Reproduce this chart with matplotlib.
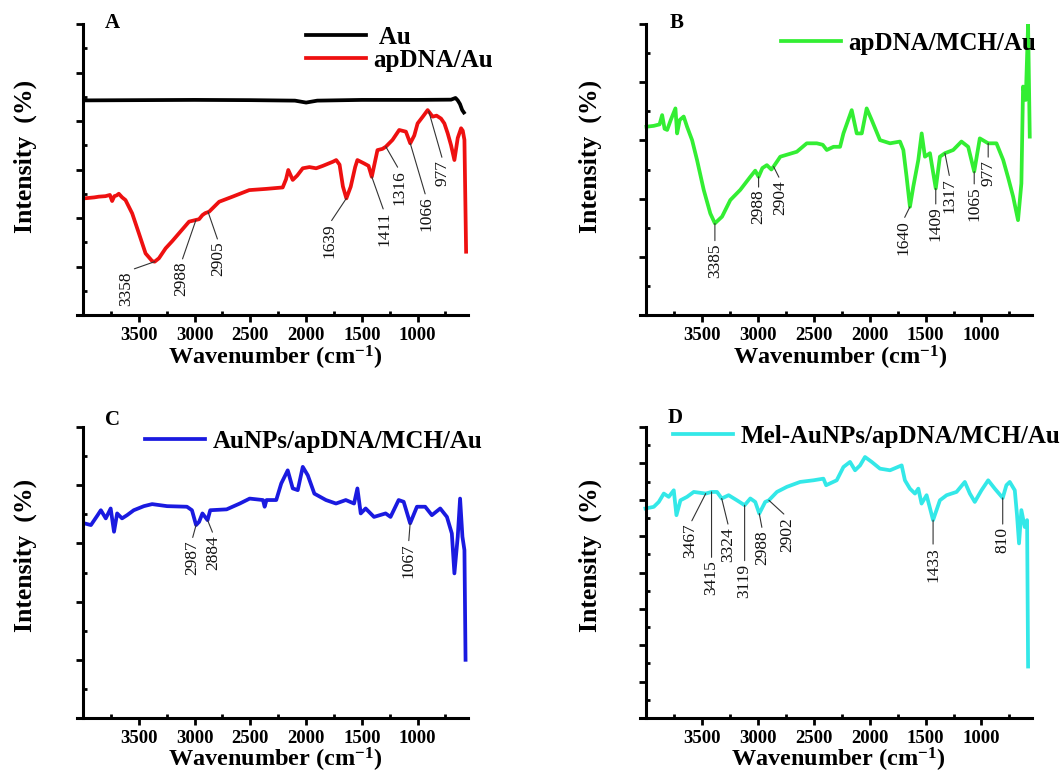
import matplotlib
matplotlib.use("Agg")
import matplotlib.pyplot as plt

plt.rcParams['font.family'] = ['Liberation Serif', 'DejaVu Serif']
plt.rcParams['mathtext.fontset'] = 'custom'
plt.rcParams['mathtext.rm'] = 'Liberation Serif:bold'
plt.rcParams['mathtext.bf'] = 'Liberation Serif:bold'
plt.rcParams['mathtext.it'] = 'Liberation Serif:bold'

# ---------------- data (wavenumber cm-1, arbitrary intensity units) -------------
au_x = [3990, 3500, 3000, 2500, 2100, 2000, 1900, 1500, 1000, 700, 660, 640, 620, 600, 585]
au_y = [8.85, 8.86, 8.87, 8.86, 8.84, 8.76, 8.84, 8.87, 8.87, 8.88, 8.95, 8.85, 8.7, 8.45, 8.35]

apdna_x = [3990, 3900, 3859, 3800, 3760, 3740, 3720, 3700, 3680, 3650, 3620, 3560, 3500, 3440,
           3380, 3358, 3320, 3260, 3200, 3140, 3050, 2988, 2960, 2930, 2905, 2870, 2780, 2660,
           2510, 2360, 2210, 2180, 2160, 2120, 2080, 2030, 1970, 1910, 1850, 1760, 1730, 1700,
           1670, 1639, 1600, 1560, 1540, 1480, 1440, 1411, 1360, 1316, 1285, 1225, 1165, 1105,
           1066, 1030, 1000, 950, 910, 865, 830, 790, 760, 730, 700, 670, 640, 610, 595, 580, 565]
apdna_y = [4.81, 4.85, 4.88, 4.9, 4.95, 4.7, 4.9, 4.93, 5.0, 4.85, 4.74, 4.19, 3.37, 2.54,
           2.22, 2.2, 2.34, 2.75, 3.05, 3.37, 3.85, 3.92, 3.95, 4.12, 4.2, 4.26, 4.67, 4.88,
           5.15, 5.2, 5.26, 5.6, 5.98, 5.57, 5.75, 6.05, 6.1, 6.05, 6.15, 6.32, 6.39, 6.2,
           5.3, 4.81, 5.29, 6.1, 6.39, 6.25, 6.15, 5.7, 6.8, 6.85, 6.94, 7.22, 7.63, 7.56,
           7.08, 7.4, 7.9, 8.2, 8.45, 8.18, 8.22, 8.1, 7.9, 7.49, 7.0, 6.39, 7.3, 7.7, 7.6, 7.22, 2.61]

mch_x = [3997, 3932, 3880, 3857, 3835, 3812, 3780, 3738, 3723, 3700, 3664, 3634, 3589, 3545,
         3485, 3426, 3385, 3321, 3247, 3158, 3068, 3024, 2994, 2960, 2920, 2880, 2860, 2800,
         2652, 2563, 2473, 2420, 2384, 2324, 2265, 2235, 2161, 2116, 2071, 2027, 1982, 1908,
         1818, 1729, 1699, 1670, 1640, 1610, 1565, 1535, 1506, 1461, 1409, 1372, 1327, 1253,
         1179, 1119, 1065, 1015, 940, 866, 806, 760, 717, 673, 643, 628, 604, 583, 568]
mch_y = [6.47, 6.5, 6.55, 6.87, 6.4, 6.36, 6.7, 7.1, 6.24, 6.7, 6.82, 6.47, 6.01, 5.33,
         4.3, 3.49, 3.15, 3.38, 3.95, 4.3, 4.75, 4.96, 4.75, 5.05, 5.15, 5.0, 5.1, 5.44,
         5.61, 5.9, 5.9, 5.85, 5.67, 5.78, 5.78, 6.24, 7.04, 6.24, 6.24, 7.1, 6.7, 6.01,
         5.9, 5.96, 5.67, 4.75, 3.72, 4.41, 5.33, 6.24, 5.44, 5.56, 4.35, 5.44, 5.56, 5.67,
         5.96, 5.78, 4.93, 6.07, 5.9, 5.9, 5.33, 4.7, 4.07, 3.26, 4.52, 7.85, 7.39, 10.0, 6.13]

aunp_x = [3990, 3930, 3870, 3841, 3797, 3753, 3723, 3695, 3651, 3606, 3546, 3455, 3381, 3247,
          3069, 3024, 2987, 2960, 2930, 2884, 2860, 2713, 2595, 2506, 2387, 2372, 2355,
          2268, 2223, 2165, 2120, 2075, 2030, 1985, 1926, 1822, 1732, 1644, 1570, 1540, 1510,
          1466, 1391, 1287, 1243, 1170, 1125, 1067, 1006, 932, 872, 797, 737, 693, 670,
          640, 619, 598, 580, 570]
aunp_y = [6.69, 6.63, 6.97, 7.14, 6.86, 7.2, 6.4, 7.03, 6.86, 6.97, 7.14, 7.28, 7.35, 7.28,
          7.26, 7.14, 6.63, 6.74, 7.03, 6.8, 7.14, 7.17, 7.37, 7.54, 7.49, 7.26, 7.49,
          7.49, 8.06, 8.51, 7.89, 7.83, 8.63, 8.34, 7.71, 7.49, 7.37, 7.49, 7.37, 7.89, 7.03,
          7.2, 6.91, 7.03, 6.91, 7.49, 7.43, 6.69, 7.26, 7.26, 6.97, 7.2, 6.91, 6.34, 4.97,
          6.23, 7.54, 6.23, 5.77, 2.0]

mel_x = [4006, 3932, 3887, 3842, 3798, 3753, 3729, 3693, 3634, 3574, 3467, 3415, 3366, 3324,
         3262, 3188, 3119, 3068, 3024, 2988, 2935, 2902, 2830, 2741, 2622, 2503, 2414, 2390,
         2295, 2235, 2176, 2131, 2086, 2042, 1982, 1908, 1818, 1714, 1685, 1640, 1595, 1565,
         1536, 1491, 1433, 1372, 1312, 1223, 1149, 1104, 1060, 1000, 940, 881, 810, 777, 747,
         702, 682, 664, 643, 613, 592, 583]
mel_y = [11.52, 11.61, 11.88, 12.34, 12.16, 12.52, 11.15, 11.97, 12.16, 12.43, 12.34, 12.43, 12.43, 12.07,
         12.25, 11.97, 11.7, 12.07, 11.88, 11.24, 11.88, 11.97, 12.43, 12.71, 12.98, 13.07, 13.16, 12.8,
         13.07, 13.8, 14.08, 13.62, 13.89, 14.35, 14.08, 13.71, 13.62, 13.89, 13.07, 12.61, 12.34, 12.61,
         11.79, 12.25, 10.88, 11.97, 12.25, 12.43, 12.98, 12.34, 11.88, 12.52, 13.07, 12.61, 12.1, 12.8, 12.98,
         12.52, 11.15, 9.6, 11.43, 10.5, 10.88, 2.83]

# annotation: label, peak x, peak y, text x, text top y
A_lab = ['3358', '2988', '2905', '1639', '1411', '1316', '1066', '977']
A_px = [3358, 2988, 2880, 1639, 1411, 1285, 1066, 900]
A_py = [2.2, 3.92, 4.26, 4.81, 5.7, 6.94, 7.08, 8.4]
A_tx = [3611, 3117, 2787, 1788, 1300, 1165, 925, 775]
A_ty = [1.79, 2.2, 3.02, 3.78, 4.26, 5.98, 4.88, 6.39]

B_lab = ['3385', '2988', '2904', '1640', '1409', '1317', '1065', '977']
B_px = [3385, 2994, 2860, 1640, 1409, 1327, 1065, 940]
B_py = [3.15, 4.75, 5.1, 3.72, 4.35, 5.56, 4.93, 5.9]
B_tx = [3385, 2994, 2800, 1699, 1409, 1283, 1065, 940]
B_ty = [2.46, 4.3, 4.64, 3.26, 3.72, 4.7, 4.41, 5.33]

C_lab = ['2987', '2884', '1067']
C_px = [2987, 2884, 1067]
C_py = [6.63, 6.8, 6.69]
C_tx = [3024, 2830, 1081]
C_ty = [6.11, 6.29, 6.0]

D_lab = ['3467', '3415', '3324', '3119', '2988', '2902', '1433', '810']
D_px = [3467, 3415, 3324, 3119, 2988, 2902, 1433, 810]
D_py = [12.34, 12.43, 12.07, 11.7, 11.24, 11.97, 10.88, 12.1]
D_tx = [3604, 3415, 3262, 3119, 2960, 2741, 1433, 810]
D_ty = [10.69, 8.68, 10.51, 8.5, 10.33, 11.06, 9.41, 10.51]

xticks_major = [3500, 3000, 2500, 2000, 1500, 1000]
xticks_minor = [3750, 3250, 2750, 2250, 1750, 1250, 750]

W, H = 1064, 773
fig = plt.figure(figsize=(W / 100, H / 100), dpi=100)


def px_axes(l, t, r, b):
    return fig.add_axes([l / W, 1 - b / H, (r - l) / W, (b - t) / H])


def style(ax, ymax):
    ax.set_xlim(4055, 548)
    ax.set_ylim(0, ymax)
    for s in ['top', 'right']:
        ax.spines[s].set_visible(False)
    ax.spines['left'].set_position(('data', 4000))
    for s in ['left', 'bottom']:
        ax.spines[s].set_linewidth(2.2)
    ax.set_xticks(xticks_major)
    ax.set_xticks(xticks_minor, minor=True)
    ax.set_yticks(list(range(0, ymax + 1, 2)))
    ax.set_yticks(list(range(1, ymax, 2)), minor=True)
    ax.tick_params(which='major', direction='out', length=5, width=2, pad=3.5,
                   labelsize=13.5, labelleft=False)
    ax.tick_params(which='minor', direction='in', length=3, width=2)
    for lb in ax.get_xticklabels():
        lb.set_fontweight('bold')


def annotate(ax, labs, px_, py_, tx_, ty_):
    for lab, x0, y0, x1, y1 in zip(labs, px_, py_, tx_, ty_):
        ax.annotate(lab, xy=(x0, y0), xytext=(x1, y1), rotation=90, ha='center', va='top',
                    fontsize=12.5, color='#111111',
                    arrowprops=dict(arrowstyle='-', lw=0.8, color='#333333',
                                    shrinkA=0, shrinkB=0, relpos=(0.5, 1.0)))


def legend(ax, x, y):
    ax.legend(loc='upper left', bbox_to_anchor=(x / W, 1 - y / H), bbox_transform=fig.transFigure,
              frameon=False, prop=dict(weight='bold', size=18), handlelength=2.4,
              handletextpad=0.3, labelspacing=-0.02, borderpad=0, borderaxespad=0)


lw = 2.7
axA = px_axes(77, 24, 468, 315)
style(axA, 12)
axA.plot(au_x, au_y, color='black', lw=lw, label=' Au')
axA.plot(apdna_x, apdna_y, color='#ee1010', lw=lw, label='apDNA/Au')
annotate(axA, A_lab, A_px, A_py, A_tx, A_ty)
legend(axA, 306, 26)

axB = px_axes(640, 24, 1032, 315)
style(axB, 10)
axB.plot(mch_x, mch_y, color='#33ee33', lw=lw, label='apDNA/MCH/Au')
annotate(axB, B_lab, B_px, B_py, B_tx, B_ty)
legend(axB, 781, 32)

axC = px_axes(77, 427, 468, 718)
style(axC, 10)
axC.plot(aunp_x, aunp_y, color='#1a1ae0', lw=lw, label='AuNPs/apDNA/MCH/Au')
annotate(axC, C_lab, C_px, C_py, C_tx, C_ty)
legend(axC, 145, 430)

axD = px_axes(640, 427, 1032, 718)
style(axD, 16)
axD.plot(mel_x, mel_y, color='#33e8e8', lw=lw, label='Mel-AuNPs/apDNA/MCH/Au')
annotate(axD, D_lab, D_px, D_py, D_tx, D_ty)
legend(axD, 673, 425)

# panel letters, axis titles
for lt, x, y in [('A', 112, 23), ('B', 677, 23), ('C', 113, 420), ('D', 675, 418)]:
    fig.text(x / W, 1 - y / H, lt, ha='center', va='center', fontsize=15, fontweight='bold')

xlab = 'Wavenumber (cm$^{\\mathrm{-1}}$)'
for x, y in [(275, 358), (840, 358), (275, 760), (838, 760)]:
    fig.text(x / W, 1 - y / H, xlab, ha='center', va='center', fontsize=17.5, fontweight='bold')
for x, y in [(25, 156), (590, 156), (25, 555), (590, 555)]:
    fig.text(x / W, 1 - y / H, 'Intensity  (%)', ha='center', va='center', rotation=90,
             fontsize=18.5, fontweight='bold')

fig.savefig('out.png', dpi=100)
